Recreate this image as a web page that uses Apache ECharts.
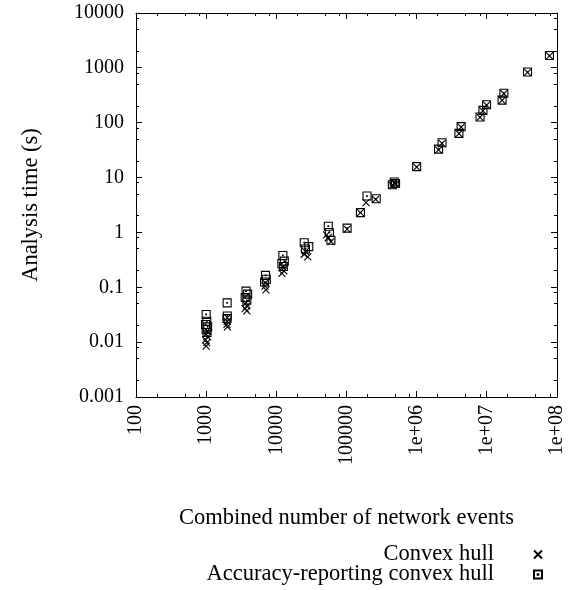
<!DOCTYPE html>
<html><head><meta charset="utf-8">
<script src="https://cdn.jsdelivr.net/npm/echarts@6/dist/echarts.min.js"></script>
<style>html,body{margin:0;padding:0;background:#fff}#c{width:584px;height:590px}</style>
</head><body><div id="c"></div>
<script>
const xMajorTicks = [100, 1000, 1e4, 1e5, 1e6, 1e7, 1e8];
const xTickLabels = ['100', '1000', '10000', '100000', '1e+06', '1e+07', '1e+08'];
const yMajorTicks = [0.001, 0.01, 0.1, 1, 10, 100, 1000, 10000];
const yTickLabels = ['0.001', '0.01', '0.1', '1', '10', '100', '1000', '10000'];
const minorFactors = [2, 5, 8];
const seriesNames = ['Convex hull', 'Accuracy-reporting convex hull'];
const xAxisName = 'Combined number of network events';
const yAxisName = 'Analysis time (s)';

const convexHull = [
  [1000,0.0085],[1020,0.0098],[980,0.011],[1050,0.0125],[1000,0.014],[1030,0.016],
  [2000,0.028],[1990,0.024],[1980,0.021],[2010,0.019],
  [3700,0.052],[3800,0.046],[3600,0.041],[3800,0.037],
  [7000,0.12],[6900,0.105],[7100,0.09],
  [12400,0.23],[12800,0.2],[12000,0.18],
  [26000,0.45],[25000,0.4],[28000,0.36],
  [52000,0.9],[55000,0.8],[60000,0.68],
  [102000,1.15],[158000,2.3],[190000,3.5],[260000,4.0],
  [450000,7.2],[480000,8.0],[500000,7.6],
  [1000000,15.5],[2050000,32],[2300000,42],[4000000,63],[4300000,83],
  [8000000,125],[8800000,165],[9900000,210],[16500000,255],[17500000,340],
  [38000000,830],[78000000,1650]
];
const accuracyHull = [
  [1000,0.032],[1020,0.024],[980,0.021],[1050,0.019],[1000,0.017],[1030,0.015],
  [1990,0.052],[2000,0.03],[1980,0.027],
  [3700,0.085],[3900,0.075],[3600,0.065],[3800,0.058],
  [7000,0.165],[7200,0.14],[6800,0.125],
  [12400,0.38],[13000,0.3],[12000,0.27],[12600,0.24],
  [25000,0.65],[29000,0.55],[26000,0.5],
  [55000,1.3],[57000,1.0],[60000,0.72],
  [102000,1.2],[158000,2.3],[196000,4.6],[265000,4.1],
  [450000,7.4],[480000,8.3],[500000,7.8],
  [1000000,15.8],[2050000,33],[2300000,43],[4000000,64],[4300000,85],
  [8000000,127],[8800000,168],[9900000,212],[16500000,258],[17500000,345],
  [38000000,840],[78000000,1680]
];

const FONT = '"Liberation Serif", "Times New Roman", serif';
function minors(majors) {
  const out = [];
  for (let i = 0; i < majors.length - 1; i++) minorFactors.forEach(f => out.push(majors[i] * f));
  return out;
}
function labelFor(majors, labels) {
  return function (v) {
    const i = majors.findIndex(t => Math.abs(Math.log10(t) - Math.log10(v)) < 1e-6);
    return i >= 0 ? labels[i] : '';
  };
}
const xMin = xMajorTicks[0], xMax = xMajorTicks[xMajorTicks.length - 1];
const yMin = yMajorTicks[0], yMax = yMajorTicks[yMajorTicks.length - 1];
const lineStyle = { color: '#000', width: 1 };

function mkAxis(kind, position, withLabels) {
  const majors = kind === 'x' ? xMajorTicks : yMajorTicks;
  const labels = kind === 'x' ? xTickLabels : yTickLabels;
  return {
    type: 'log', logBase: 10,
    min: kind === 'x' ? xMin : yMin, max: kind === 'x' ? xMax : yMax,
    position: position,
    axisLine: { show: true, onZero: false, lineStyle: lineStyle },
    axisTick: { show: false },
    axisLabel: withLabels ? (kind === 'x'
      ? { show: true, rotate: 90, margin: 8, color: '#000', fontFamily: FONT, fontSize: 20,
          customValues: majors, formatter: labelFor(majors, labels) }
      : { show: true, margin: 12, color: '#000', fontFamily: FONT, fontSize: 20,
          customValues: majors, formatter: labelFor(majors, labels) })
      : { show: false },
    splitLine: { show: false },
    minorTick: { show: false },
    silent: true
  };
}

const xAxes = [
  Object.assign(mkAxis('x', 'bottom', true), {
    name: xAxisName, nameLocation: 'middle', nameGap: 110,
    nameTextStyle: { color: '#000', fontFamily: FONT, fontSize: 22.5 }
  }),
  mkAxis('x', 'top', false)
];
const yAxes = [
  Object.assign(mkAxis('y', 'left', true), {
    name: yAxisName, nameLocation: 'middle', nameGap: 93, nameRotate: 90,
    nameTextStyle: { color: '#000', fontFamily: FONT, fontSize: 22.5 }
  }),
  mkAxis('y', 'right', false)
];

// tick marks (inside, mirrored) drawn through the axes' scales
const MAJOR_LEN = 6, MINOR_LEN = 3;
const tickStroke = { stroke: '#000', lineWidth: 1 };
function px(v) { return Math.round(v - 0.5) + 0.5; }
function renderXTick(params, api) {
  const cs = params.coordSys;
  const x = px(api.coord([api.value(0), yMin])[0]);
  const len = api.value(1) ? MAJOR_LEN : MINOR_LEN;
  const b = cs.y + cs.height, t = cs.y;
  return { type: 'group', children: [
    { type: 'line', shape: { x1: x, y1: b, x2: x, y2: b - len }, style: tickStroke },
    { type: 'line', shape: { x1: x, y1: t, x2: x, y2: t + len }, style: tickStroke }
  ]};
}
function renderYTick(params, api) {
  const cs = params.coordSys;
  const y = px(api.coord([xMin, api.value(1)])[1]);
  const len = api.value(2) ? MAJOR_LEN : MINOR_LEN;
  const l = cs.x, r = cs.x + cs.width;
  return { type: 'group', children: [
    { type: 'line', shape: { x1: l, y1: y, x2: l + len, y2: y }, style: tickStroke },
    { type: 'line', shape: { x1: r, y1: y, x2: r - len, y2: y }, style: tickStroke }
  ]};
}
const xTickData = xMajorTicks.map(v => [v, 1]).concat(minors(xMajorTicks).map(v => [v, 0]));
const yTickData = yMajorTicks.map(v => [xMin, v, 1]).concat(minors(yMajorTicks).map(v => [xMin, v, 0]));

const crossPath = 'path://M0,0L10,10M0,10L10,0';
const boxDotPath = 'path://M0,0L10,0L10,10L0,10Z M4.6,4.6L5.4,4.6L5.4,5.4L4.6,5.4Z';
const markStyle = { color: 'transparent', borderColor: '#000', borderWidth: 1.1, opacity: 1 };

function mkLegend(name, top) {
  return {
    orient: 'vertical', right: 36, top: top, align: 'right',
    itemWidth: 8, itemHeight: 8, selectedMode: false,
    textStyle: { color: '#000', fontFamily: FONT, fontSize: 22.5, padding: [0, 35, 0, 0] },
    data: [name]
  };
}

const chart = echarts.init(document.getElementById('c'), null, { renderer: 'canvas' });
chart.setOption({
  animation: false,
  backgroundColor: '#fff',
  grid: { left: 136, right: 27, top: 13, bottom: 193, containLabel: false },
  xAxis: xAxes,
  yAxis: yAxes,
  legend: [mkLegend(seriesNames[0], 538), mkLegend(seriesNames[1], 558)],
  series: [
    { type: 'custom', xAxisIndex: 0, yAxisIndex: 0, renderItem: renderXTick, data: xTickData,
      silent: true, clip: false, z: 5, encode: { x: 0 } },
    { type: 'custom', xAxisIndex: 0, yAxisIndex: 0, renderItem: renderYTick, data: yTickData,
      silent: true, clip: false, z: 5, encode: { x: 0, y: 1 } },
    { name: seriesNames[0], type: 'scatter', xAxisIndex: 0, yAxisIndex: 0,
      symbol: crossPath, symbolSize: 7, itemStyle: markStyle, data: convexHull, silent: true },
    { name: seriesNames[1], type: 'scatter', xAxisIndex: 0, yAxisIndex: 0,
      symbol: boxDotPath, symbolSize: 8, itemStyle: markStyle, data: accuracyHull, silent: true }
  ]
});
</script></body></html>
